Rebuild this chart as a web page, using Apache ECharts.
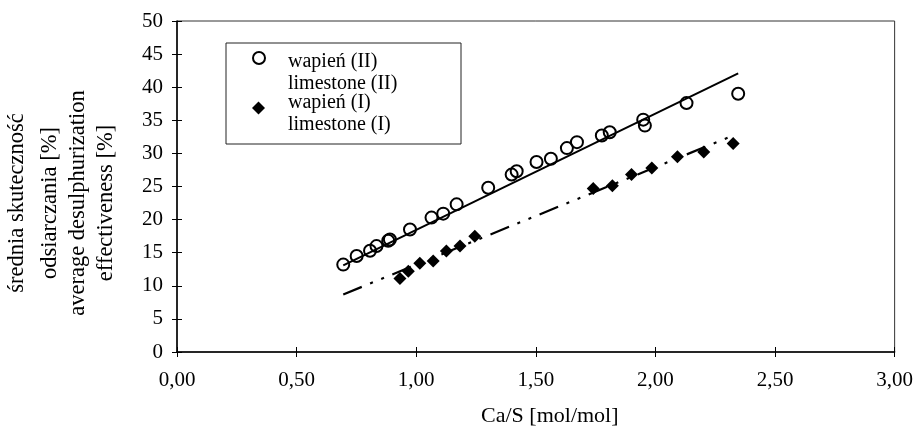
<!DOCTYPE html>
<html>
<head>
<meta charset="utf-8">
<script src="https://cdn.jsdelivr.net/npm/echarts@6/dist/echarts.min.js"></script>
<style>
html,body{margin:0;padding:0;background:#fff;}
#chart{width:916px;height:432px;}
</style>
</head>
<body>
<div id="chart"></div>
<script>
// Data
const caS_II = [0.695,0.751,0.807,0.834,0.883,0.890,0.974,1.064,1.113,1.169,1.301,1.399,1.420,1.503,1.563,1.630,1.672,1.776,1.809,1.949,1.956,2.130,2.346];
const eff_II = [13.2,14.5,15.3,16.0,16.8,17.0,18.5,20.3,20.9,22.3,24.8,26.8,27.3,28.7,29.2,30.8,31.7,32.7,33.2,35.1,34.2,37.6,39.0];
const caS_I = [0.932,0.967,1.015,1.071,1.126,1.183,1.245,1.740,1.820,1.900,1.985,2.092,2.202,2.325];
const eff_I = [11.1,12.2,13.4,13.75,15.25,16.0,17.5,24.7,25.1,26.8,27.8,29.5,30.2,31.5];
const trendII_x = [0.695, 2.346];
const trendII_y = [13.1, 42.1];
const trendI_x = [0.695, 2.318];
const trendI_y = [8.7, 32.6];
const xTicks = [0, 0.5, 1.0, 1.5, 2.0, 2.5, 3.0];
const yTicks = [0, 5, 10, 15, 20, 25, 30, 35, 40, 45, 50];
const nameII_lines = ['wapień (II)', 'limestone (II)'];
const nameI_lines = ['wapień (I)', 'limestone (I)'];
const yNameLines = ['średnia skuteczność', 'odsiarczania [%]', 'average desulphurization', 'effectiveness [%]'];
const xName = 'Ca/S [mol/mol]';

const nameII = nameII_lines.join('\n');
const nameI = nameI_lines.join('\n');
const zip = (a, b) => a.map((v, i) => [v, b[i]]);
const FONT = 'Liberation Serif';
const fmtX = v => v.toFixed(2).replace('.', ',');
const legendFmt = name => '{e| }\n' + name.split('\n').map(s => '{a|' + s + '}').join('\n');

const chart = echarts.init(document.getElementById('chart'), null, {renderer: 'canvas'});
const yNameX = [17, 50, 78, 106];

const baseX = {
  type: 'value', min: xTicks[0], max: xTicks[xTicks.length - 1], interval: 0.5,
  splitLine: {show: false}
};
const baseY = {
  type: 'value', min: yTicks[0], max: yTicks[yTicks.length - 1], interval: 5,
  splitLine: {show: false}
};
const legendText = eh => ({
  fontFamily: FONT, fontSize: 20, color: '#000', padding: [0, 0, 0, 18],
  rich: {
    e: {fontFamily: FONT, fontSize: 8, lineHeight: eh},
    a: {fontFamily: FONT, fontSize: 20, color: '#000', lineHeight: 22}
  }
});

chart.setOption({
  backgroundColor: '#fff',
  animation: false,
  textStyle: {fontFamily: FONT, color: '#000'},
  grid: {left: 177, right: 21, top: 21, bottom: 79, show: true, borderColor: '#333', borderWidth: 1, backgroundColor: 'transparent'},
  xAxis: [
    Object.assign({}, baseX, {
      position: 'bottom',
      axisLine: {show: true, lineStyle: {color: '#000', width: 1.5}},
      axisTick: {show: true, inside: false, length: 5, lineStyle: {color: '#000'}},
      axisLabel: {formatter: fmtX, fontFamily: FONT, fontSize: 21, color: '#000', margin: 18},
      name: xName, nameLocation: 'middle', nameGap: 53,
      nameTextStyle: {fontFamily: FONT, fontSize: 22, color: '#000', padding: [0, 0, 0, 28]}
    }),
    Object.assign({}, baseX, {
      position: 'bottom',
      axisLine: {show: false},
      axisTick: {show: true, inside: true, length: 5, lineStyle: {color: '#000'}},
      axisLabel: {show: false}
    })
  ],
  yAxis: [
    Object.assign({}, baseY, {
      position: 'left',
      axisLine: {show: true, lineStyle: {color: '#000', width: 1.5}},
      axisTick: {show: true, inside: false, length: 5, lineStyle: {color: '#000'}},
      axisLabel: {fontFamily: FONT, fontSize: 21, color: '#000', margin: 14}
    }),
    Object.assign({}, baseY, {
      position: 'left',
      axisLine: {show: false},
      axisTick: {show: true, inside: true, length: 5, lineStyle: {color: '#000'}},
      axisLabel: {show: false}
    })
  ],
  legend: [
    {
      data: [nameII], left: 252, top: 32, padding: 0, orient: 'vertical',
      itemWidth: 12, itemHeight: 12, formatter: legendFmt,
      textStyle: legendText(30)
    },
    {
      data: [nameI], left: 252, top: 82, padding: 0, orient: 'vertical',
      itemWidth: 13, itemHeight: 13, formatter: legendFmt,
      textStyle: legendText(12)
    }
  ],
  graphic: [
    {type: 'rect', shape: {x: 226, y: 43, width: 235, height: 101}, style: {fill: 'none', stroke: '#222', lineWidth: 1}, z: 1}
  ].concat(yNameLines.map((t, i) => ({
    type: 'text', x: yNameX[i], y: 203, rotation: Math.PI / 2,
    style: {text: t, fontFamily: FONT, fontSize: 22.5, fill: '#000', textAlign: 'center', textVerticalAlign: 'middle'}
  }))),
  series: [
    {
      name: 'trendII', type: 'line', data: zip(trendII_x, trendII_y), showSymbol: false, symbol: 'none',
      lineStyle: {color: '#000', width: 2}, silent: true, z: 2
    },
    {
      name: 'trendI', type: 'line', data: zip(trendI_x, trendI_y), showSymbol: false, symbol: 'none',
      lineStyle: {color: '#000', width: 2.2, type: [20, 9, 3, 9, 3, 9]}, silent: true, z: 2
    },
    {
      name: nameII, type: 'scatter', data: zip(caS_II, eff_II), symbol: 'circle', symbolSize: 12,
      itemStyle: {color: 'rgba(255,255,255,0)', borderColor: '#000', borderWidth: 2, opacity: 1}, z: 3
    },
    {
      name: nameI, type: 'scatter', data: zip(caS_I, eff_I), symbol: 'diamond', symbolSize: 13,
      itemStyle: {color: '#000', opacity: 1}, z: 3
    }
  ]
});
</script>
</body>
</html>
